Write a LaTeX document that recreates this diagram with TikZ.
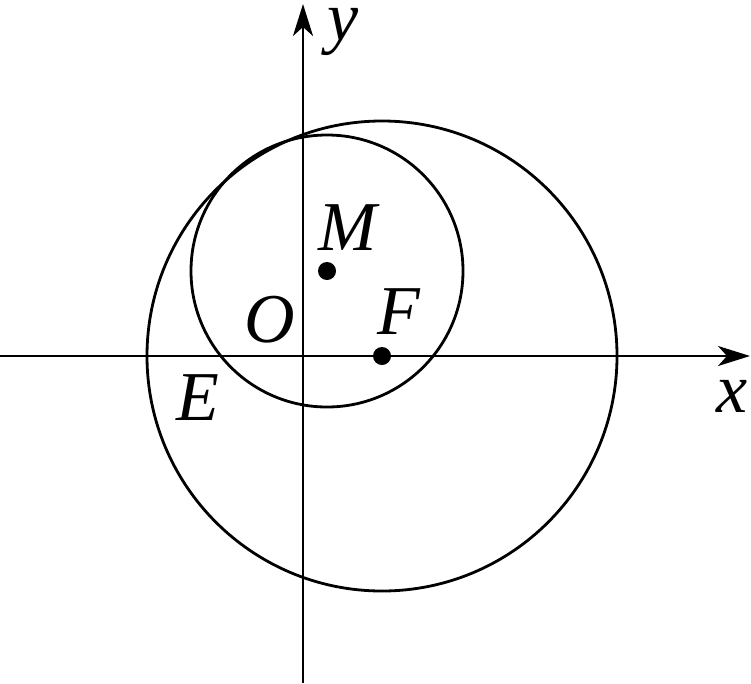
\documentclass[tikz,border=0pt]{standalone}
\usepackage{fontspec}
\setmainfont{Liberation Serif}
\usetikzlibrary{arrows.meta}
\begin{document}
\begin{tikzpicture}[x=1pt,y=-1pt,
  axis/.style={line width=2.8pt,-{Stealth[length=32pt,width=20pt,inset=9pt]}},
  curve/.style={line width=2.8pt},
  lbl/.style={font=\fontsize{70}{80}\selectfont\itshape,inner sep=0pt},
  dot/.style={circle,fill=black,inner sep=0pt,minimum size=18pt}]
\useasboundingbox (0,0) rectangle (751,683);
\coordinate (xs) at (0,356);
\coordinate (xe) at (750,356);
\coordinate (ys) at (303,683);
\coordinate (ye) at (303,4);
\draw[axis] (xs) -- (xe);
\draw[axis] (ys) -- (ye);
\node[dot] (F) at (382,356) {};
\node[dot] (M) at (327,271) {};
\draw[curve] (F.center) circle (235);
\draw[curve] (M.center) circle (136);
\node[lbl] (lM) at (348,228) {M};
\node[lbl] (lO) at (270,320) {O};
\node[lbl] (lF) at (399,312) {F};
\node[lbl] (lE) at (198,398) {E};
\node[lbl] (ly) at (343,32) {y};
\node[lbl] (lx) at (732,396) {x};
\end{tikzpicture}
\end{document}
